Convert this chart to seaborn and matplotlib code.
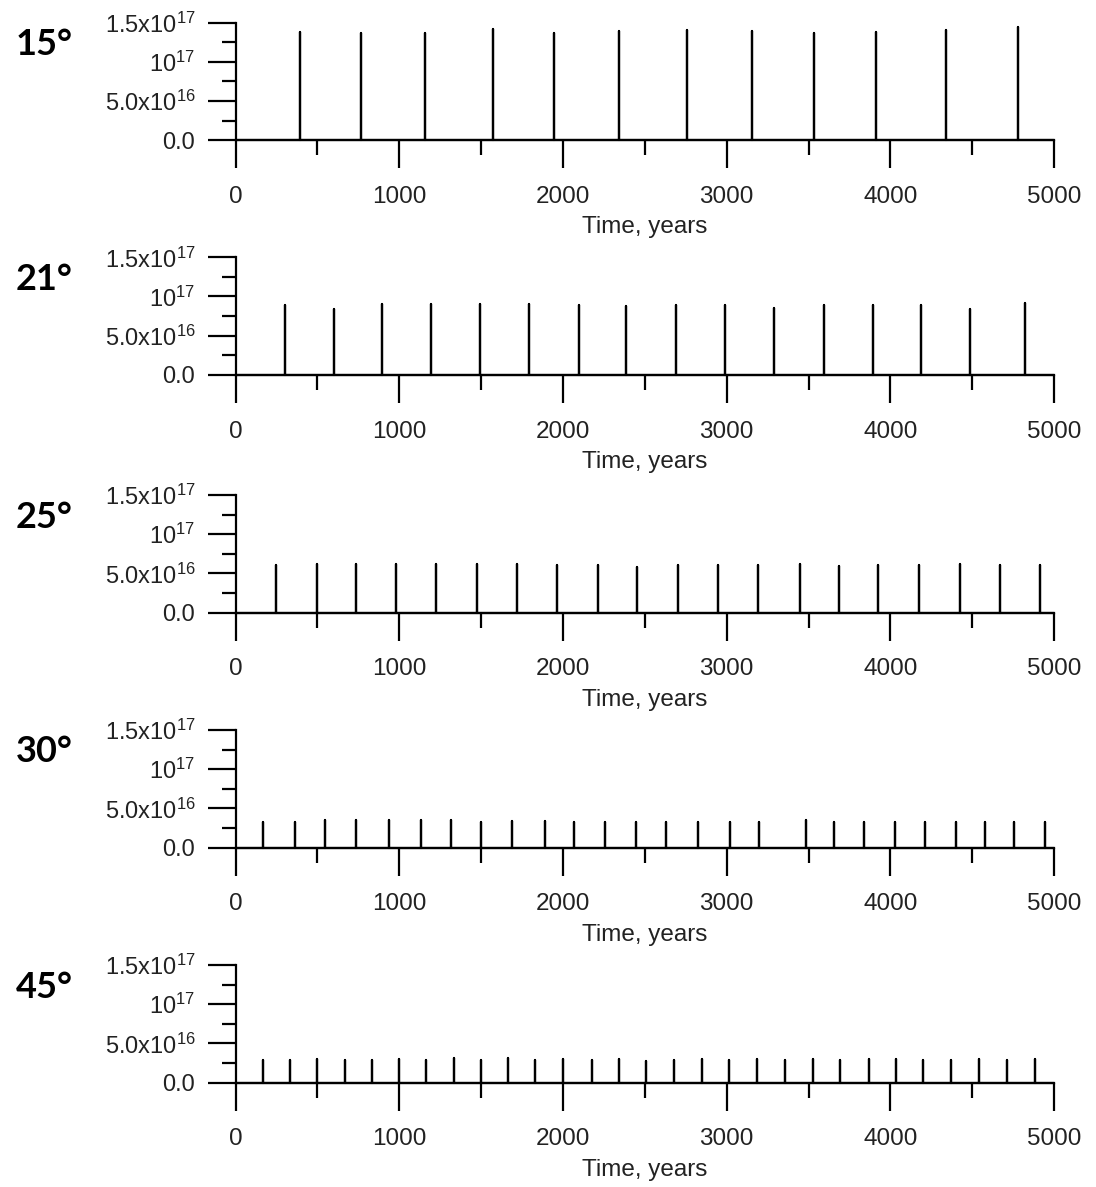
import numpy as np
import pandas as pd
import matplotlib
matplotlib.use("Agg")
import matplotlib.pyplot as plt
import seaborn as sns

# spike times (years) and heights
angles = ["15°", "21°", "25°", "30°", "45°"]

t15 = [393, 764, 1157, 1572, 1943, 2345, 2759, 3152, 3532, 3912, 4342, 4781]
h15 = [1.376e17, 1.364e17, 1.368e17, 1.415e17, 1.364e17, 1.389e17, 1.406e17,
       1.393e17, 1.372e17, 1.381e17, 1.406e17, 1.44e17]

t21 = [299, 600, 895, 1194, 1495, 1794, 2100, 2388, 2690, 2991, 3292, 3595,
       3892, 4190, 4486, 4822]
h21 = [0.887e17, 0.845e17, 0.904e17, 0.904e17, 0.904e17, 0.904e17, 0.896e17,
       0.879e17, 0.896e17, 0.887e17, 0.853e17, 0.896e17, 0.896e17, 0.887e17,
       0.845e17, 0.921e17]

t25 = [244, 496, 738, 978, 1227, 1474, 1718, 1965, 2214, 2453, 2703, 2947,
       3192, 3447, 3689, 3927, 4174, 4427, 4669, 4912]
h25 = [0.605e17, 0.618e17, 0.618e17, 0.618e17, 0.618e17, 0.618e17, 0.618e17,
       0.612e17, 0.605e17, 0.584e17, 0.609e17, 0.605e17, 0.605e17, 0.618e17,
       0.588e17, 0.609e17, 0.605e17, 0.614e17, 0.609e17, 0.605e17]

t30 = [168, 360, 548, 733, 939, 1131, 1314, 1500, 1690, 1888, 2070, 2255,
       2445, 2628, 2825, 3019, 3196, 3487, 3655, 3842, 4026, 4213, 4399,
       4578, 4757, 4944]
h30 = [0.328e17, 0.328e17, 0.349e17, 0.349e17, 0.349e17, 0.349e17, 0.349e17,
       0.328e17, 0.337e17, 0.337e17, 0.328e17, 0.328e17, 0.328e17, 0.328e17,
       0.328e17, 0.328e17, 0.328e17, 0.349e17, 0.328e17, 0.328e17, 0.328e17,
       0.328e17, 0.328e17, 0.328e17, 0.328e17, 0.328e17]

t45 = [168, 334, 498, 666, 834, 1000, 1164, 1332, 1500, 1663, 1829, 2002,
       2177, 2345, 2506, 2681, 2847, 3017, 3187, 3358, 3526, 3694, 3869,
       4037, 4200, 4370, 4541, 4711, 4881]
h45 = [0.289e17, 0.289e17, 0.297e17, 0.289e17, 0.289e17, 0.297e17, 0.289e17,
       0.310e17, 0.289e17, 0.310e17, 0.289e17, 0.306e17, 0.285e17, 0.306e17,
       0.272e17, 0.293e17, 0.306e17, 0.293e17, 0.306e17, 0.293e17, 0.306e17,
       0.285e17, 0.306e17, 0.306e17, 0.293e17, 0.293e17, 0.306e17, 0.293e17,
       0.306e17]

ytick_vals = [0, 5e16, 1e17, 1.5e17]
ytick_labels = ["0.0", r"$5.0x10^{16}$", r"$10^{17}$", r"$1.5x10^{17}$"]
xtick_vals = [0, 1000, 2000, 3000, 4000, 5000]

sns.set_style("ticks")
plt.rcParams["font.family"] = ["Liberation Sans", "DejaVu Sans"]
plt.rcParams["mathtext.default"] = "regular"


def spikes_frame(times, heights):
    xs, ys = [0], [0]
    for t, h in zip(times, heights):
        xs += [t, t, t]
        ys += [0, h, 0]
    xs.append(5000)
    ys.append(0)
    return pd.DataFrame({"time": xs, "value": ys})


fig = plt.figure(figsize=(10.96, 11.87), dpi=100)
tops = [22.7, 257.3, 495.0, 730.0, 965.0]  # pixel row of 1.5e17 in each panel
H = 1187.0
panel_h = 117.5
series = [(t15, h15), (t21, h21), (t25, h25), (t30, h30), (t45, h45)]

for i, (times, heights) in enumerate(series):
    bottom = 1 - (tops[i] + panel_h) / H
    ax = fig.add_axes([0.215, bottom, 0.7467, panel_h / H])
    df = spikes_frame(times, heights)
    sns.lineplot(data=df, x="time", y="value", sort=False, estimator=None,
                 color="black", linewidth=1.6, ax=ax)
    for ln in ax.lines:
        ln.set_clip_on(False)

    ax.set_xlim(0, 5000)
    ax.set_ylim(0, 1.5e17)
    sns.despine(ax=ax)
    for s in ["left", "bottom"]:
        ax.spines[s].set_linewidth(1.6)
        ax.spines[s].set_color("black")

    ax.set_yticks(ytick_vals)
    ax.set_yticklabels(ytick_labels)
    ax.set_yticks([2.5e16, 7.5e16, 1.25e17], minor=True)
    ax.set_xticks(xtick_vals)
    ax.set_xticklabels([str(v) for v in xtick_vals])
    ax.set_xticks([500, 1500, 2500, 3500, 4500], minor=True)

    ax.tick_params(axis="y", which="major", length=20, width=1.6, pad=9,
                   labelsize=17, colors="black", labelcolor="#222222")
    ax.tick_params(axis="y", which="minor", length=10, width=1.6, colors="black")
    ax.tick_params(axis="x", which="major", length=20, width=1.6, pad=13,
                   labelsize=17.5, colors="black", labelcolor="#222222")
    ax.tick_params(axis="x", which="minor", length=11, width=1.6, colors="black")

    ax.set_xlabel("Time, years", fontsize=17.5, color="#222222", labelpad=6)
    ax.set_ylabel("")

    fig.text(16 / 1096, 1 - (tops[i] + 22) / H, angles[i],
             fontsize=26, fontweight="bold", family=["Lato", "DejaVu Sans"],
             color="black", ha="left", va="center")

fig.savefig("out.png", dpi=100)
